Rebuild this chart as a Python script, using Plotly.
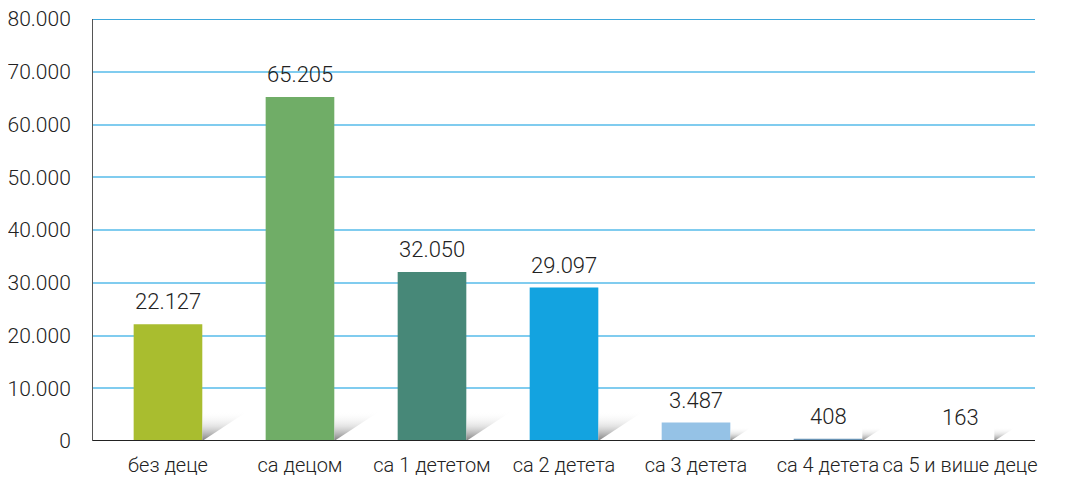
import plotly.graph_objects as go

categories = ["без деце", "са децом", "са 1 дететом", "са 2 детета", "са 3 детета", "са 4 детета", "са 5 и више деце"]
values = [22127, 65205, 32050, 29097, 3487, 408, 163]
colors = ["#A9BD2F", "#70AD67", "#478878", "#13A3E0", "#95C2E6", "#6A94B5", "#6B6B6B"]
tick_vals = [0, 10000, 20000, 30000, 40000, 50000, 60000, 70000, 80000]

FONT = "Roboto"
BAR_W = 0.52


def tf(size):
    return dict(family=FONT, size=size, color="#222222", weight=300)


fig = go.Figure()

# decorative shadows to the right of each bar
for i, v in enumerate(values):
    h = 5600 if v > 10000 else 2600
    r = i + BAR_W / 2
    dx = 0.34 if v > 10000 else 0.16
    fig.add_trace(go.Scatter(
        x=[r, r, r + dx, r], y=[0, h, h, 0],
        mode="lines", line=dict(width=0), fill="toself",
        fillgradient=dict(type="vertical",
                          colorscale=[[0, "rgba(110,110,110,0.9)"], [0.5, "rgba(205,205,205,0.55)"], [1, "rgba(255,255,255,0)"]]),
        hoverinfo="skip", showlegend=False,
    ))

fig.add_trace(go.Bar(
    x=list(range(len(categories))), y=values,
    marker=dict(color=colors, line=dict(width=0)),
    width=BAR_W, showlegend=False,
))

for i, v in enumerate(values):
    fig.add_annotation(x=i, y=v, xref="x", yref="y", text=f"{v:,}".replace(",", "."),
                       showarrow=False, yanchor="bottom", yshift=8, font=tf(22))

fig.add_shape(type="line", xref="paper", yref="y", x0=0, x1=1, y0=80000, y1=80000,
              line=dict(color="#3EA8DC", width=2), layer="above")

fig.update_layout(
    width=1057, height=478,
    margin=dict(l=85, r=30, t=11, b=45),
    paper_bgcolor="white", plot_bgcolor="white",
    separators=",.",
    font=tf(20),
    xaxis=dict(
        tickmode="array", tickvals=list(range(len(categories))), ticktext=categories,
        range=[-0.568, 6.568], showgrid=False, zeroline=False,
        showline=False, ticks="outside", ticklen=6, tickcolor="rgba(0,0,0,0)",
        automargin=False, tickangle=0, ticklabeloverflow="allow",
        tickfont=tf(20),
    ),
    yaxis=dict(
        range=[0, 80000], tickvals=tick_vals, tickformat=",d",
        showgrid=True, gridcolor="#80CCEF", gridwidth=2,
        zeroline=False, showline=True, linecolor="#555555", linewidth=1,
        ticks="", ticklabelstandoff=17, automargin=False, ticklabeloverflow="allow",
        tickfont=tf(21),
    ),
)

fig.add_shape(type="line", xref="paper", yref="y", x0=0, x1=1, y0=0, y1=0,
              line=dict(color="#222222", width=2), layer="above")

fig.write_html("out.html")
